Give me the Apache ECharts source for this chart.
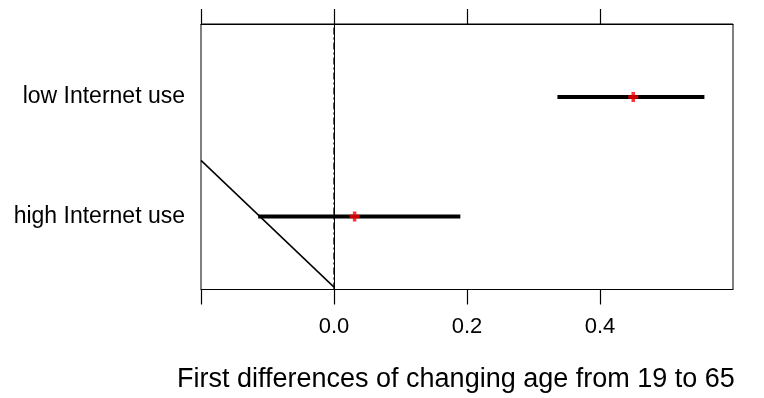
<!DOCTYPE html>
<html>
<head>
<meta charset="utf-8">
<script src="https://cdn.jsdelivr.net/npm/echarts@6/dist/echarts.min.js"></script>
<style>
html,body{margin:0;padding:0;background:#fff;}
#c{width:764px;height:398px;}
</style>
</head>
<body>
<div id="c"></div>
<script>
// Data
var categories = ['high Internet use', 'low Internet use'];
var categoryPos = [1, 2];
var estimates = [0.031, 0.45];
var lower = [-0.114, 0.336];
var upper = [0.19, 0.557];
var xTicks = [-0.2, 0.0, 0.2, 0.4];
var xTickLabels = [0.0, 0.2, 0.4];
var diagonalX = [-0.2, 0.0];
var diagonalY = [1.47, 0.41];
var refLineX = 0;
var xTitle = 'First differences of changing age from 19 to 65';

var FONT = '"Liberation Sans", Arial, sans-serif';
var chart = echarts.init(document.getElementById('c'), null, {renderer: 'canvas'});

var yMin = 0.39, yMax = 2.61;

var series = [];
// reference dash-dot line
series.push({
  type: 'line', silent: true, symbol: 'none',
  data: [[refLineX, yMin], [refLineX, yMax]],
  lineStyle: {color: '#000', width: 1.3, type: [7, 3, 2, 3]},
  z: 1
});
// diagonal line
series.push({
  type: 'line', silent: true, symbol: 'none',
  data: diagonalX.map(function (x, i) { return [x, diagonalY[i]]; }),
  lineStyle: {color: '#000', width: 1.5},
  z: 2
});
// interval bars
categories.forEach(function (c, i) {
  series.push({
    type: 'line', silent: true, symbol: 'none',
    data: [[lower[i], categoryPos[i]], [upper[i], categoryPos[i]]],
    lineStyle: {color: '#000', width: 4, cap: 'butt'},
    z: 3
  });
});
// point estimates
series.push({
  type: 'scatter', silent: true,
  symbol: 'path://M2.6,0H5.4V2.6H8V5.4H5.4V8H2.6V5.4H0V2.6H2.6Z',
  symbolSize: 10,
  itemStyle: {color: '#ff0000'},
  data: estimates.map(function (e, i) { return [e, categoryPos[i]]; }),
  z: 4
});

chart.setOption({
  animation: false,
  backgroundColor: '#fff',
  textStyle: {fontFamily: FONT},
  grid: {left: 201, right: 31, top: 24, bottom: 108.5, show: true, borderColor: '#000', borderWidth: 1, backgroundColor: 'transparent'},
  xAxis: [{
    type: 'value', position: 'bottom', min: -0.2, max: 0.6, interval: 0.2,
    axisLine: {show: true, lineStyle: {color: '#000', width: 1}},
    axisTick: {show: true, inside: false, length: 15, customValues: xTicks, lineStyle: {color: '#000', width: 1.2}},
    axisLabel: {show: true, customValues: xTickLabels, margin: 26, fontSize: 22, color: '#000', fontFamily: FONT,
      formatter: function (v) { return v.toFixed(1); }},
    splitLine: {show: false}
  }, {
    type: 'value', position: 'top', min: -0.2, max: 0.6, interval: 0.2,
    axisLine: {show: true, lineStyle: {color: '#000', width: 1}},
    axisTick: {show: true, inside: false, length: 15, customValues: xTicks, lineStyle: {color: '#000', width: 1.2}},
    axisLabel: {show: false},
    splitLine: {show: false}
  }],
  yAxis: {
    type: 'value', min: yMin, max: yMax,
    axisLine: {show: true, lineStyle: {color: '#000', width: 1}},
    axisTick: {show: false},
    axisLabel: {show: true, customValues: categoryPos, margin: 16, fontSize: 23, color: '#000', fontFamily: FONT,
      formatter: function (v) { return categories[categoryPos.indexOf(v)]; }},
    splitLine: {show: false}
  },
  graphic: [{
    type: 'text', left: 177, top: 366,
    style: {text: xTitle, fontSize: 27, fontFamily: FONT, fill: '#000'}
  }],
  series: series
});
</script>
</body>
</html>
